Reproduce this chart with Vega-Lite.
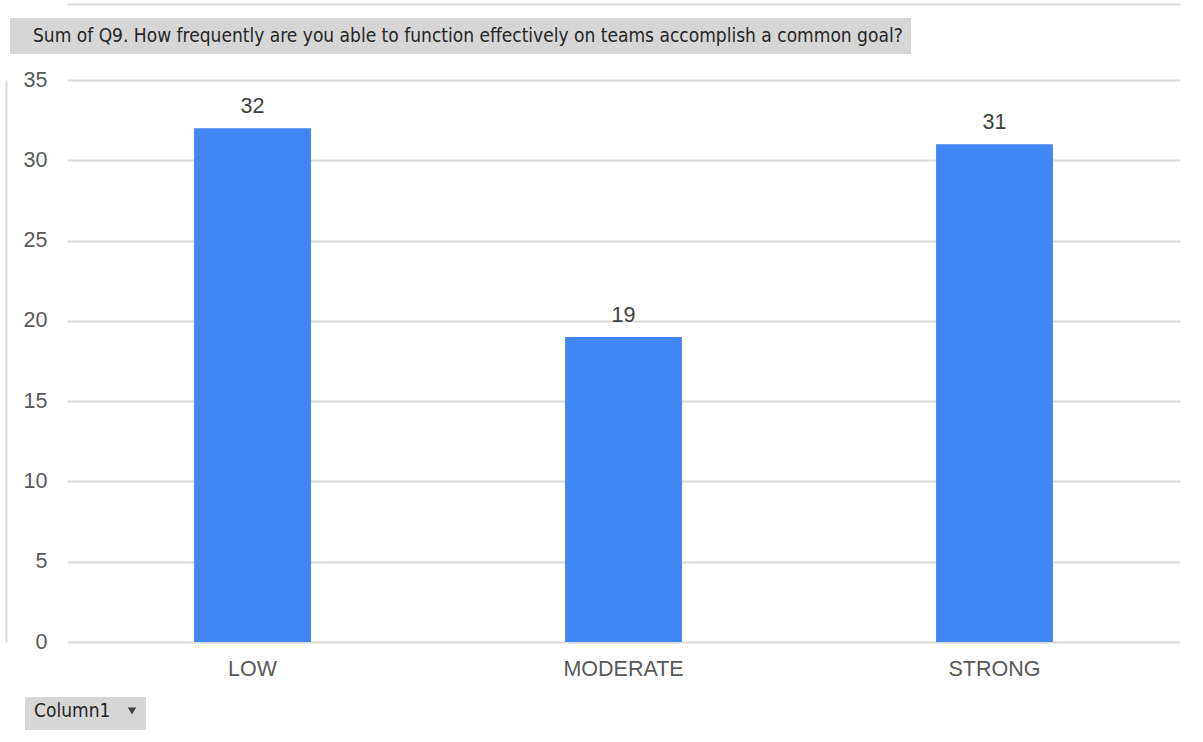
{
  "$schema": "https://vega.github.io/schema/vega-lite/v6.json",
  "width": 1113,
  "height": 562,
  "autosize": {"type": "none"},
  "padding": {"left": 67, "top": 80, "right": 23, "bottom": 100},
  "background": "white",
  "data": {
    "values": [
      {"category": "LOW", "value": 32, "measure": "Sum of Q9. How frequently are you able to function effectively on teams accomplish a common goal?", "series": "Column1"},
      {"category": "MODERATE", "value": 19, "measure": "Sum of Q9. How frequently are you able to function effectively on teams accomplish a common goal?", "series": "Column1"},
      {"category": "STRONG", "value": 31, "measure": "Sum of Q9. How frequently are you able to function effectively on teams accomplish a common goal?", "series": "Column1"}
    ]
  },
  "config": {
    "view": {"stroke": null},
    "font": "Liberation Sans"
  },
  "layer": [
    {
      "mark": {"type": "bar", "color": "#4285f4"},
      "encoding": {
        "x": {
          "field": "category", "type": "nominal", "sort": null,
          "scale": {"paddingInner": 0.685, "paddingOuter": 0.3425},
          "axis": {"title": null, "labelAngle": 0, "ticks": false, "domain": false, "labelPadding": 16, "labelFontSize": 21.5, "labelColor": "#595959", "labelFont": "Liberation Sans", "grid": false}
        },
        "y": {
          "field": "value", "type": "quantitative",
          "scale": {"domain": [0, 35]},
          "axis": {"title": null, "values": [0, 5, 10, 15, 20, 25, 30, 35], "ticks": false, "domain": false, "labelPadding": 20, "labelFontSize": 21.5, "labelColor": "#595959", "labelFont": "Liberation Sans", "grid": true, "gridColor": "#d9d9d9", "gridWidth": 2}
        },
        "opacity": {
          "field": "measure", "type": "nominal",
          "scale": {"range": [1]},
          "legend": {"orient": "none", "legendX": -57, "legendY": -62, "title": null, "fillColor": "#d6d6d6", "padding": 8, "symbolSize": 0, "symbolStrokeWidth": 0, "labelOffset": -4, "labelFont": "DejaVu Sans Condensed", "labelFontSize": 19, "labelColor": "#262626", "labelLimit": 0}
        }
      }
    },
    {
      "mark": {"type": "text", "baseline": "bottom", "dy": -10, "fontSize": 21.5, "color": "#404040", "font": "Liberation Sans"},
      "encoding": {
        "x": {
          "field": "category", "type": "nominal", "sort": null,
          "axis": {"orient": "top", "offset": 76, "labels": false, "ticks": false, "grid": false, "title": null, "domain": true, "domainColor": "#d9d9d9", "domainWidth": 2}
        },
        "y": {
          "field": "value", "type": "quantitative",
          "axis": {"orient": "left", "offset": 61, "labels": false, "ticks": false, "grid": false, "title": null, "domain": true, "domainColor": "#d9d9d9", "domainWidth": 2}
        },
        "opacity": {
          "field": "series", "type": "nominal",
          "scale": {"range": [1]},
          "legend": {"orient": "none", "legendX": -42, "legendY": 617, "title": "Column1", "titleOrient": "left", "titleFont": "DejaVu Sans Condensed", "titleFontSize": 19, "titleFontWeight": "normal", "titleColor": "#262626", "titlePadding": 16, "fillColor": "#d6d6d6", "padding": 9, "symbolType": "triangle-down", "symbolFillColor": "#404040", "symbolStrokeWidth": 0, "symbolSize": 70, "labelExpr": "''", "labelOffset": 0}
        },
        "text": {"field": "value", "type": "quantitative"}
      }
    }
  ],
  "resolve": {
    "axis": {"x": "independent", "y": "independent"},
    "scale": {"opacity": "independent"},
    "legend": {"opacity": "independent"}
  }
}
